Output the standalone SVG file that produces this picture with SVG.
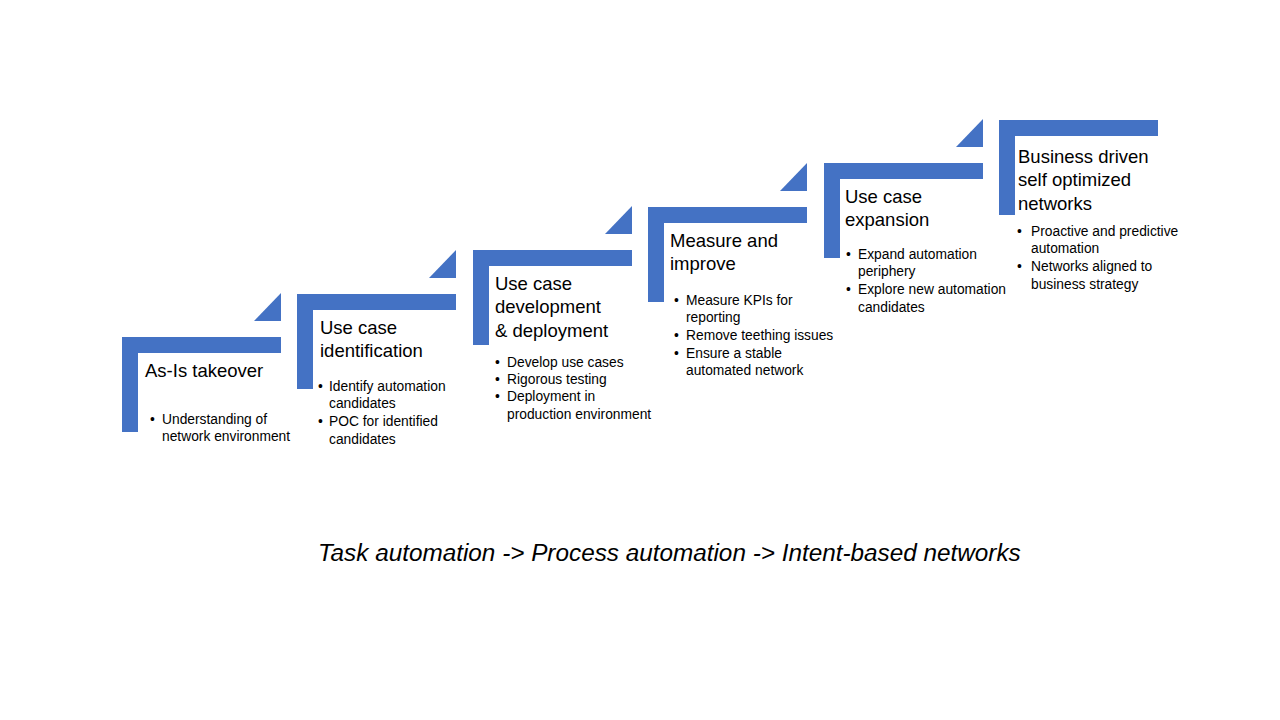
<svg xmlns="http://www.w3.org/2000/svg" width="1280" height="720" viewBox="0 0 1280 720">
<defs>
<style>
.shape{fill:#4472C4}
.title{font-family:"Liberation Sans",Arial,sans-serif;font-size:18.5px;fill:#000}
.bul{font-family:"Liberation Sans",Arial,sans-serif;font-size:13.8px;fill:#000}
.foot{font-family:"Liberation Sans",Arial,sans-serif;font-size:24.3px;font-style:italic;fill:#000}
</style>
<path id="L" d="M0 0h159v16h-143v79h-16z"/>
<path id="T" d="M159 -44v28h-27z"/>
</defs>
<rect width="1280" height="720" fill="#fff"/>
<g id="step1">
<use href="#L" class="shape" x="122" y="337"/>
<use href="#T" class="shape" x="122" y="337"/>
<text class="title" x="145" y="377">As-Is takeover</text>
<text class="bul"><tspan x="150" y="424">•</tspan><tspan x="162" y="424">Understanding of</tspan><tspan x="162" y="441">network environment</tspan></text>
</g>
<g id="step2">
<use href="#L" class="shape" x="297" y="294"/>
<use href="#T" class="shape" x="297" y="294"/>
<text class="title"><tspan x="320" y="334">Use case</tspan><tspan x="320" y="357">identification</tspan></text>
<text class="bul"><tspan x="318" y="391">•</tspan><tspan x="329" y="391">Identify automation</tspan><tspan x="329" y="408">candidates</tspan><tspan x="318" y="426">•</tspan><tspan x="329" y="426">POC for identified</tspan><tspan x="329" y="444">candidates</tspan></text>
</g>
<g id="step3">
<use href="#L" class="shape" x="473" y="250"/>
<use href="#T" class="shape" x="473" y="250"/>
<text class="title"><tspan x="495" y="290">Use case</tspan><tspan x="495" y="313">development</tspan><tspan x="495" y="337">&amp; deployment</tspan></text>
<text class="bul"><tspan x="495" y="367">•</tspan><tspan x="507" y="367">Develop use cases</tspan><tspan x="495" y="384">•</tspan><tspan x="507" y="384">Rigorous testing</tspan><tspan x="495" y="401">•</tspan><tspan x="507" y="401">Deployment in</tspan><tspan x="507" y="419">production environment</tspan></text>
</g>
<g id="step4">
<use href="#L" class="shape" x="648" y="207"/>
<use href="#T" class="shape" x="648" y="207"/>
<text class="title"><tspan x="670" y="247">Measure and</tspan><tspan x="670" y="270">improve</tspan></text>
<text class="bul"><tspan x="674" y="305">•</tspan><tspan x="686" y="305">Measure KPIs for</tspan><tspan x="686" y="322">reporting</tspan><tspan x="674" y="340">•</tspan><tspan x="686" y="340">Remove teething issues</tspan><tspan x="674" y="358">•</tspan><tspan x="686" y="358">Ensure a stable</tspan><tspan x="686" y="375">automated network</tspan></text>
</g>
<g id="step5">
<use href="#L" class="shape" x="824" y="163"/>
<use href="#T" class="shape" x="824" y="163"/>
<text class="title"><tspan x="845" y="203">Use case</tspan><tspan x="845" y="226">expansion</tspan></text>
<text class="bul"><tspan x="846" y="259">•</tspan><tspan x="858" y="259">Expand automation</tspan><tspan x="858" y="276">periphery</tspan><tspan x="846" y="294">•</tspan><tspan x="858" y="294">Explore new automation</tspan><tspan x="858" y="312">candidates</tspan></text>
</g>
<g id="step6">
<use href="#L" class="shape" x="999" y="120"/>
<text class="title"><tspan x="1018" y="163">Business driven</tspan><tspan x="1018" y="186">self optimized</tspan><tspan x="1018" y="210">networks</tspan></text>
<text class="bul"><tspan x="1017" y="236">•</tspan><tspan x="1031" y="236">Proactive and predictive</tspan><tspan x="1031" y="253">automation</tspan><tspan x="1017" y="271">•</tspan><tspan x="1031" y="271">Networks aligned to</tspan><tspan x="1031" y="289">business strategy</tspan></text>
</g>
<g id="connectors"/>
<text class="foot" x="318" y="561">Task automation -&gt; Process automation -&gt; Intent-based networks</text>
</svg>
